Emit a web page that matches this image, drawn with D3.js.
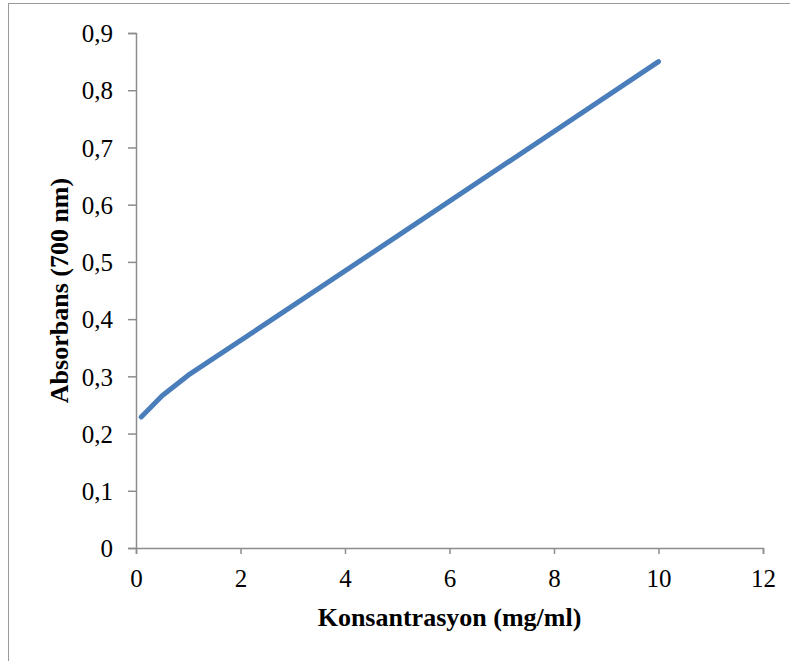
<!DOCTYPE html>
<html>
<head>
<meta charset="utf-8">
<script src="https://cdn.jsdelivr.net/npm/d3@7"></script>
<style>
  body { margin: 0; background: #fff; }
  svg { display: block; }
</style>
</head>
<body>
<svg width="790" height="661"></svg>
<script>
// data
var konsantrasyon = [0.1, 0.5, 1, 2.5, 5, 10];
var absorbans = [0.229, 0.266, 0.302, 0.393, 0.545, 0.85];
var xTicks = [0, 2, 4, 6, 8, 10, 12];
var yTicks = [0, 0.1, 0.2, 0.3, 0.4, 0.5, 0.6, 0.7, 0.8, 0.9];

var svg = d3.select("svg"),
    margin = {top: 33, right: 27, bottom: 113, left: 136},
    width = 790 - margin.left - margin.right,
    height = 661 - margin.top - margin.bottom;

// outer frame
svg.append("rect")
    .attr("x", 8.5).attr("y", 3.5)
    .attr("width", 800).attr("height", 700)
    .attr("fill", "#fff")
    .attr("stroke", "#9a9a9a");

var x = d3.scaleLinear().domain([0, 12]).range([0, width]),
    y = d3.scaleLinear().domain([0, 0.9]).range([height, 0]);

var g = svg.append("g")
    .attr("transform", "translate(" + margin.left + "," + margin.top + ")");

var fmt = function(d) { return String(d).replace(".", ","); };

// x axis
var xAxis = g.append("g")
    .attr("transform", "translate(0," + height + ")")
    .call(d3.axisBottom(x).tickValues(xTicks).tickSize(6).tickPadding(15).tickFormat(fmt));

// y axis
var yAxis = g.append("g")
    .call(d3.axisLeft(y).tickValues(yTicks).tickSize(8).tickPadding(15).tickFormat(fmt));

[xAxis, yAxis].forEach(function(a) {
    a.selectAll("path, line").attr("stroke", "#8c8c8c").attr("stroke-width", 1.5);
    a.selectAll("text")
        .style("font-family", "'Liberation Serif', 'Times New Roman', serif")
        .style("font-size", "25px")
        .attr("fill", "#000");
});
yAxis.selectAll("text").attr("dy", "0.35em");

// the line
var line = d3.line()
    .x(function(d, i) { return x(konsantrasyon[i]); })
    .y(function(d) { return y(d); });

g.append("path")
    .datum(absorbans)
    .attr("fill", "none")
    .attr("stroke", "#4a7ebb")
    .attr("stroke-width", 5)
    .attr("stroke-linecap", "round")
    .attr("stroke-linejoin", "round")
    .attr("d", line);

// axis titles
svg.append("text")
    .attr("x", margin.left + width / 2)
    .attr("y", 626)
    .attr("text-anchor", "middle")
    .style("font", "bold 26px 'Liberation Serif', 'Times New Roman', serif")
    .text("Konsantrasyon (mg/ml)");

svg.append("text")
    .attr("transform", "translate(68," + (margin.top + height / 2) + ") rotate(-90)")
    .attr("text-anchor", "middle")
    .style("font", "bold 26px 'Liberation Serif', 'Times New Roman', serif")
    .text("Absorbans (700 nm)");
</script>
</body>
</html>
